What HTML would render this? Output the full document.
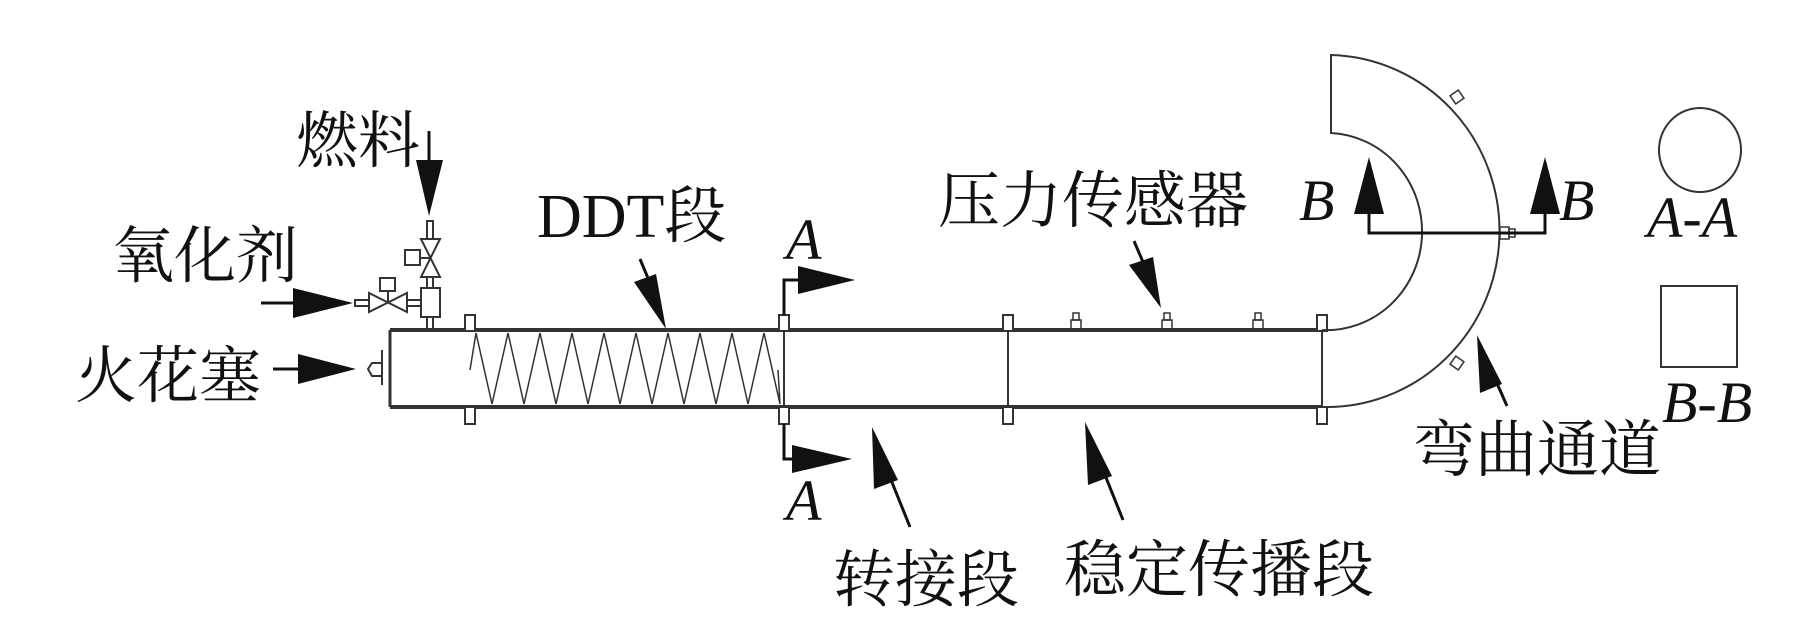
<!DOCTYPE html>
<html><head><meta charset="utf-8"><style>
html,body{margin:0;padding:0;background:#fff;}
svg{display:block;}
.cj{font-family:"Liberation Serif","Noto Serif CJK SC",serif;font-size:62px;fill:#111;}
.it{font-family:"Liberation Serif",serif;font-style:italic;font-size:58px;fill:#111;}
</style></head><body>
<svg width="1819" height="640" viewBox="0 0 1819 640" xmlns="http://www.w3.org/2000/svg">
<g fill="none" stroke="#333" stroke-width="2">
<!-- main tube -->
<line x1="390" y1="330" x2="1322" y2="330" stroke-width="4"/>
<line x1="390" y1="407" x2="1322" y2="407" stroke-width="4"/>
<line x1="390" y1="330" x2="390" y2="407" stroke-width="3"/>
<line x1="784" y1="330" x2="784" y2="407"/>
<line x1="1008" y1="330" x2="1008" y2="407"/>
<line x1="1322" y1="330" x2="1322" y2="407"/>
<!-- flanges -->
<rect x="465" y="315" width="10" height="16" fill="#fff"/><rect x="465" y="407" width="10" height="17" fill="#fff"/>
<rect x="779" y="315" width="10" height="16" fill="#fff"/><rect x="779" y="407" width="10" height="17" fill="#fff"/>
<rect x="1003" y="315" width="10" height="16" fill="#fff"/><rect x="1003" y="407" width="10" height="17" fill="#fff"/>
<rect x="1317" y="315" width="10" height="16" fill="#fff"/><rect x="1317" y="407" width="10" height="17" fill="#fff"/>
<!-- zigzag -->
<polyline stroke-width="1.5" points="470,370 476,333 492,404 508,333 524,404 540,333 556,404 572,333 588,404 604,333 620,404 636,333 652,404 668,333 684,404 700,333 716,404 732,333 748,404 764,333 780,404 778,370"/>
<!-- sensors -->
<g stroke-width="1.5">
<rect x="1071" y="320" width="10" height="10"/><rect x="1073" y="313" width="6" height="7"/>
<rect x="1162" y="320" width="10" height="10"/><rect x="1164" y="313" width="6" height="7"/>
<rect x="1253" y="320" width="10" height="10"/><rect x="1255" y="313" width="6" height="7"/>
</g>
<!-- bend -->
<path d="M1322 330 A95 98 0 0 0 1331 133 L1331 55 A173 176 0 0 1 1322 407" stroke-width="2"/>
<g stroke-width="1.5">
<rect x="1500" y="227" width="9" height="12"/><rect x="1509" y="229" width="6" height="8"/>
<rect x="1452" y="92" width="10" height="10" transform="rotate(-35 1457 97)"/>
<rect x="1452" y="358" width="10" height="10" transform="rotate(35 1457 363)"/>
</g>
<!-- sections -->
<ellipse cx="1700" cy="150" rx="41" ry="42"/>
<rect x="1661" y="286" width="76" height="81"/>
<!-- spark plug -->
<line x1="382" y1="350" x2="382" y2="385"/>
<path d="M382 363 L372 363 L368 369 L372 376 L382 376"/>
<!-- valves -->
<rect x="421" y="288" width="19" height="29"/>
<line x1="427" y1="317" x2="427" y2="330"/><line x1="433" y1="317" x2="433" y2="330"/>
<line x1="427" y1="277" x2="427" y2="288"/><line x1="433" y1="277" x2="433" y2="288"/>
<rect x="427" y="221" width="6" height="18"/>
<path d="M421 239 L440 239 L421 277 L440 277 Z" fill="#fff"/>
<rect x="405" y="250" width="15" height="15"/><line x1="420" y1="258" x2="430" y2="258"/>
<path d="M369 293 L369 312 L407 293 L407 312 Z" fill="#fff"/>
<rect x="380" y="278" width="15" height="13"/><line x1="388" y1="291" x2="388" y2="303"/>
<rect x="355" y="300" width="14" height="6"/>
<line x1="407" y1="300" x2="421" y2="300"/><line x1="407" y1="306" x2="421" y2="306"/>
</g>
<!-- section lines -->
<g fill="none" stroke="#111" stroke-width="3">
<polyline points="784,315 784,280 800,280"/>
<polyline points="784,424 784,459 796,459"/>
<polyline points="1369,214 1369,233 1545,233 1545,214"/>
<line x1="429" y1="131" x2="429" y2="160"/>
<line x1="261" y1="303" x2="295" y2="303"/>
<line x1="273" y1="369" x2="300" y2="369"/>
<line x1="640" y1="259" x2="650" y2="283"/>
<line x1="1134" y1="241" x2="1143" y2="262"/>
<line x1="910" y1="527" x2="885" y2="465"/>
<line x1="1123" y1="520" x2="1099" y2="460"/>
<line x1="1507" y1="406" x2="1492" y2="372"/>
</g>
<g fill="#111">
<polygon points="798,266 855,280 798,294"/>
<polygon points="792,445 852,459 792,473"/>
<polygon points="1354,214 1369,157 1384,214"/>
<polygon points="1530,214 1545,157 1560,214"/>
<polygon points="416,160 443,160 429,216"/>
<polygon points="293,288 353,303 293,318"/>
<polygon points="298,354 356,369 298,384"/>
<polygon points="634,282 656,274 666,329"/>
<polygon points="1129,265 1153,257 1161,308"/>
<polygon points="872,427 898,480 874,489"/>
<polygon points="1085,422 1112,476 1088,485"/>
<polygon points="1477,335 1502,384 1480,393"/>
</g>
<!-- text -->
<text class="cj" x="296" y="162" font-size="60">燃料</text>
<text class="cj" x="112" y="277">氧化剂</text>
<text class="cj" x="75" y="397">火花塞</text>
<text class="cj" x="537" y="237" font-size="60">DDT段</text>
<text class="cj" x="938" y="222">压力传感器</text>
<text class="cj" x="833" y="601">转接段</text>
<text class="cj" x="1064" y="591">稳定传播段</text>
<text class="cj" x="1413" y="471">弯曲通道</text>
<text class="it" x="786" y="259">A</text>
<text class="it" x="786" y="520">A</text>
<text class="it" x="1299" y="220">B</text>
<text class="it" x="1559" y="220">B</text>
<text class="it" x="1647" y="237">A-A</text>
<text class="it" x="1662" y="422">B-B</text>
</svg>
</body></html>
